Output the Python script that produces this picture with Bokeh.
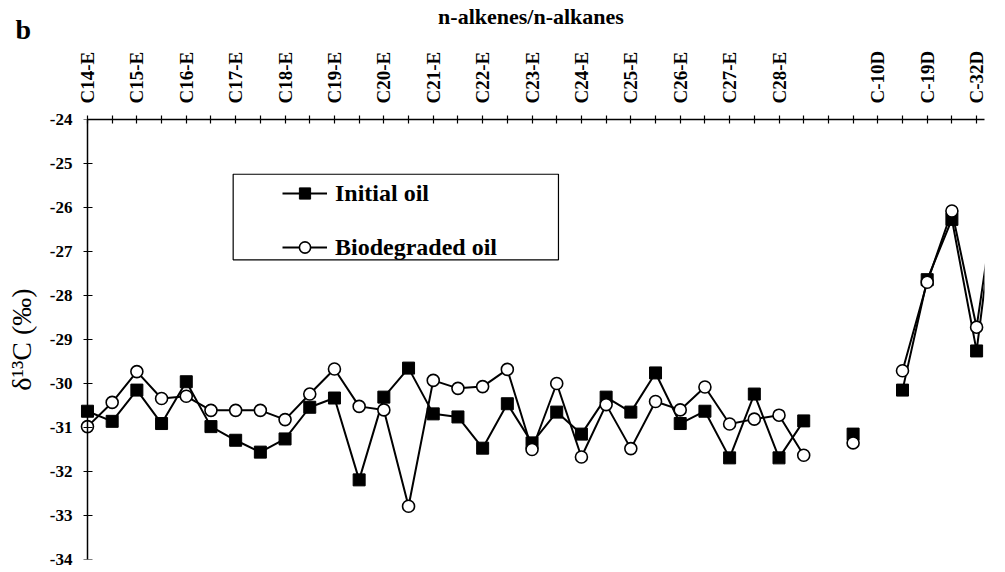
import math
from bokeh.plotting import figure
from bokeh.models import (FixedTicker, Legend, LegendItem, Label, BoxAnnotation,
                          ColumnDataSource, LinearAxis)
from bokeh.embed import file_html
from bokeh.resources import INLINE

nan = float("nan")

# ---- data ----
top_labels = ["C14-E", "C15-E", "C16-E", "C17-E", "C18-E", "C19-E", "C20-E",
              "C21-E", "C22-E", "C23-E", "C24-E", "C25-E", "C26-E", "C27-E",
              "C28-E", "C-10D", "C-19D", "C-32D"]
label_pos = [0, 2, 4, 6, 8, 10, 12, 14, 16, 18, 20, 22, 24, 26, 28, 32, 34, 36]

x_pos = list(range(38))

initial_oil = [-30.63, -30.86, -30.15, -30.91, -29.96, -30.98, -31.29, -31.56,
               -31.26, -30.54, -30.33, -32.19, -30.31, -29.65, -30.69, -30.76,
               -31.47, -30.46, -31.35, -30.65, -31.15, -30.31, -30.65, -29.76,
               -30.91, -30.63, -31.69, -30.24, -31.69, -30.85, nan, -31.15,
               nan, -30.15, -27.64, -26.27, -29.26, -24.80]

biodegraded_oil = [-30.98, -30.43, -29.73, -30.34, -30.29, -30.61, -30.61,
                   -30.61, -30.82, -30.24, -29.67, -30.52, -30.60, -32.79,
                   -29.93, -30.11, -30.07, -29.68, -31.50, -30.00, -31.67,
                   -30.48, -31.48, -30.41, -30.60, -30.08, -30.92, -30.81,
                   -30.72, -31.63, nan, -31.35, nan, -29.71, -27.70, -26.08,
                   -28.72, -24.90]

y_ticks = [-34, -33, -32, -31, -30, -29, -28, -27, -26, -25, -24]

SERIF = "Liberation Serif"

src = ColumnDataSource(dict(x=x_pos, ini=initial_oil, bio=biodegraded_oil))

W, H = 1000, 568
X0, X1 = -0.404, 36.32
p = figure(width=W, height=H, x_range=(X0, X1), y_range=(-34, -24),
           x_axis_location="above", y_axis_location="left",
           output_backend="svg", toolbar_location=None,
           min_border_left=77, min_border_right=0, min_border_top=117,
           min_border_bottom=9, outline_line_color=None,
           background_fill_color="white", border_fill_color="white")
p.grid.visible = False

# ---- top axis ----
xa = p.xaxis[0]
xa.ticker = FixedTicker(ticks=list(range(0, 37)))
overrides = {i: "" for i in range(0, 37)}
for pos, lab in zip(label_pos, top_labels):
    overrides[pos] = lab
xa.major_label_overrides = overrides
xa.major_label_orientation = "vertical"
xa.major_label_text_font = SERIF
xa.major_label_text_font_style = "bold"
xa.major_label_text_font_size = "19px"
xa.major_label_text_color = "black"
xa.major_label_standoff = 12
xa.major_tick_in = 4
xa.major_tick_out = 4
xa.major_tick_line_width = 1.2
xa.minor_tick_line_color = None
xa.axis_line_width = 1.5
xa.bounds = (0, X1)
xa.axis_label = "n-alkenes/n-alkanes"
xa.axis_label_text_font = SERIF
xa.axis_label_text_font_style = "bold"
xa.axis_label_text_font_size = "22px"
xa.axis_label_text_color = "black"
xa.axis_label_standoff = 19

# ---- left axis: labels + title (at frame edge, no line/ticks) ----
yb = p.yaxis[0]
yb.ticker = FixedTicker(ticks=y_ticks)
yb.major_label_overrides = {t: str(t) for t in y_ticks}
yb.axis_line_color = None
yb.major_tick_line_color = None
yb.minor_tick_line_color = None
yb.major_tick_in = 0
yb.major_tick_out = 0
yb.major_label_text_font = SERIF
yb.major_label_text_font_style = "bold"
yb.major_label_text_font_size = "17px"
yb.major_label_text_color = "black"
yb.major_label_standoff = 5
yb.axis_label = "δ¹³C (‰)"
yb.axis_label_text_font = SERIF
yb.axis_label_text_font_style = "normal"
yb.axis_label_text_font_size = "28px"
yb.axis_label_text_color = "black"
yb.axis_label_standoff = 10

# ---- left axis line and ticks, drawn through the first category ----
ya = LinearAxis(fixed_location=0, ticker=FixedTicker(ticks=y_ticks),
                major_label_overrides={t: "" for t in y_ticks},
                major_label_standoff=0, major_tick_in=5, major_tick_out=4,
                major_tick_line_width=1.2, minor_tick_line_color=None,
                axis_line_width=1.5)
p.add_layout(ya, "left")

# ---- series ----
l1 = p.line("x", "ini", source=src, line_color="black", line_width=2)
s1 = p.scatter("x", "ini", source=src, marker="square", size=12,
               fill_color="black", line_color="black", line_width=1)
l2 = p.line("x", "bio", source=src, line_color="black", line_width=2)
s2 = p.scatter("x", "bio", source=src, marker="circle", size=12,
               fill_color="white", line_color="black", line_width=1.6)

# ---- legend ----
box = BoxAnnotation(left=5.899, right=19.07, top=-25.244, bottom=-27.19,
                    fill_alpha=0, fill_color=None, line_color="black",
                    line_alpha=1, line_width=1.2, level="overlay")
p.add_layout(box)

legend = Legend(items=[LegendItem(label="Initial oil", renderers=[l1, s1]),
                       LegendItem(label="Biodegraded oil", renderers=[l2, s2])],
                location=(205, 298), padding=0, margin=0,
                border_line_color=None, background_fill_alpha=0,
                label_text_font=SERIF, label_text_font_style="bold",
                label_text_font_size="24px", label_text_color="black",
                glyph_width=45, glyph_height=28, label_height=28,
                label_standoff=8, spacing=26)
p.add_layout(legend)

# ---- panel letter (in a side panel so that it is not clipped to the frame) ----
panel = Label(x=15, y=29, x_units="canvas", y_units="canvas", text="b",
              text_align="left", text_baseline="alphabetic", text_font=SERIF,
              text_font_style="bold", text_font_size="28px",
              text_color="black")
p.add_layout(panel, "right")

open("out.html", "w").write(file_html(p, INLINE))
